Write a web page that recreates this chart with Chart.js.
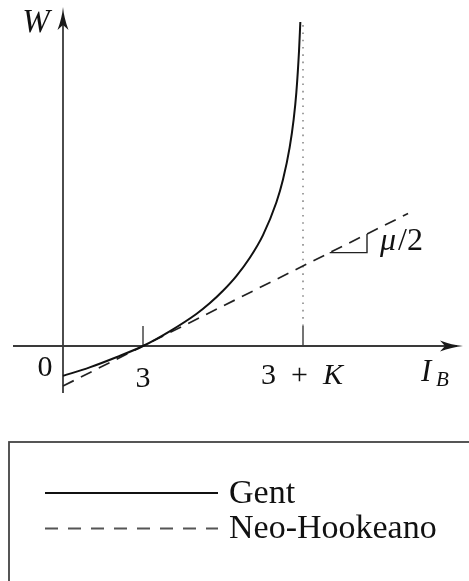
<!DOCTYPE html>
<html>
<head>
<meta charset="utf-8">
<script src="https://cdn.jsdelivr.net/npm/chart.js@4.4.1/dist/chart.umd.min.js"></script>
<style>
	html, body { margin: 0; padding: 0; background: #fff; }
</style>
</head>
<body>
<canvas id="myChart" width="469" height="581"></canvas>
<script>

// Gent strain energy, rising to the asymptote at I_B = 3 + K
const gentI = [0, 1, 2, 3, 4, 5, 5.5, 6, 6.5, 7, 7.5, 8, 8.25, 8.5, 8.65, 8.75, 8.85, 8.9]
const gentW = [-1.12, -0.8, -0.42, 0, 0.55, 1.2, 1.6, 2.07, 2.62, 3.3, 4.16, 5.38, 6.24, 7.45, 8.5, 9.5, 11.05, 12.15]

// Neo-Hookean straight line, slope mu/2
const neoI = [0, 12.94]
const neoW = [-1.5, 4.97]

// asymptote I_B = 3 + K
const asymI = [9, 9]
const asymW = [0.75, 12.15]

// little slope triangle under the dashed line
const slopeI = [10, 11.4, 11.4]
const slopeW = [3.5, 3.5, 4.2]

// axis tick marks and their labels
const tickValues = [3, 9]
const tickTexts = [['3'], ['3\u2002+\u2002', 'K']]

const FONT = '"Liberation Serif", "DejaVu Serif", serif'

const pts = (xs, ys) => xs.map((x, i) => ({ x: x, y: ys[i] }))

function arrowHead(ctx, x, y, angle) {
	ctx.save()
	ctx.translate(x, y)
	ctx.rotate(angle)
	ctx.beginPath()
	ctx.moveTo(0, 0)
	ctx.quadraticCurveTo(-11, 1, -23, 5.5)
	ctx.lineTo(-18, 0)
	ctx.lineTo(-23, -5.5)
	ctx.quadraticCurveTo(-11, -1, 0, 0)
	ctx.closePath()
	ctx.fill()
	ctx.restore()
}

// draws runs of text, every second run in italics, centred on x
function mixedText(ctx, runs, x, y, size) {
	let widths = runs.map((r, i) => {
		ctx.font = (i % 2 ? 'italic ' : '') + size + 'px ' + FONT
		return ctx.measureText(r).width
	})
	let total = widths.reduce((a, b) => a + b, 0)
	let cx = x - total / 2
	ctx.textAlign = 'left'
	runs.forEach((r, i) => {
		ctx.font = (i % 2 ? 'italic ' : '') + size + 'px ' + FONT
		ctx.fillText(r, cx, y)
		cx += widths[i]
	})
}

const axesPlugin = {
	id: 'axesPlugin',
	beforeDatasetsDraw(chart) {
		const ctx = chart.ctx
		const xs = chart.scales.x, ys = chart.scales.y
		const area = chart.chartArea
		const x0 = xs.getPixelForValue(0), y0 = ys.getPixelForValue(0)

		ctx.save()
		ctx.strokeStyle = '#3a3a3a'
		ctx.fillStyle = '#1a1a1a'
		ctx.lineWidth = 1.8

		ctx.beginPath()
		ctx.moveTo(area.left, y0)
		ctx.lineTo(area.right - 6, y0)
		ctx.moveTo(x0, area.bottom)
		ctx.lineTo(x0, area.top + 6)
		ctx.stroke()
		arrowHead(ctx, area.right, y0, 0)
		arrowHead(ctx, x0, area.top - 1, -Math.PI / 2)

		ctx.lineWidth = 1.4
		ctx.beginPath()
		tickValues.forEach(v => {
			let px = xs.getPixelForValue(v)
			ctx.moveTo(px, y0)
			ctx.lineTo(px, ys.getPixelForValue(0.75))
		})
		ctx.stroke()
		ctx.restore()
	},
	afterDraw(chart) {
		const ctx = chart.ctx
		const xs = chart.scales.x, ys = chart.scales.y
		const area = chart.chartArea
		const x0 = xs.getPixelForValue(0), y0 = ys.getPixelForValue(0)

		ctx.save()
		ctx.fillStyle = '#111'
		ctx.textBaseline = 'middle'

		// axis names
		ctx.textAlign = 'center'
		ctx.font = 'italic 33px ' + FONT
		ctx.fillText('W', x0 - 27, area.top + 15)
		ctx.textAlign = 'left'
		ctx.font = 'italic 31px ' + FONT
		ctx.fillText('I', area.right - 42, y0 + 27)
		ctx.font = 'italic 21px ' + FONT
		ctx.fillText('B', area.right - 27, y0 + 34)

		// origin and ticks
		ctx.textAlign = 'center'
		ctx.font = '30px ' + FONT
		ctx.fillText('0', x0 - 18, y0 + 22)
		mixedText(ctx, tickTexts[0], xs.getPixelForValue(tickValues[0]), y0 + 33, 30)
		mixedText(ctx, tickTexts[1], xs.getPixelForValue(tickValues[1]) - 1, y0 + 30, 30)

		// slope label
		ctx.textAlign = 'left'
		ctx.font = 'italic 32px ' + FONT
		let lx = xs.getPixelForValue(slopeI[1]) + 13
		let ly = ys.getPixelForValue(3.9)
		ctx.fillText('\u03bc', lx, ly)
		let mw = ctx.measureText('\u03bc').width
		ctx.font = '32px ' + FONT
		ctx.fillText('/2', lx + mw + 2, ly)

		// legend frame and entries
		ctx.strokeStyle = '#444'
		ctx.lineWidth = 1.8
		ctx.strokeRect(9, 442, 520, 200)

		const entries = chart.data.datasets.filter(d => d.label)
		entries.forEach((d, i) => {
			let y = 493 + i * 35.5
			ctx.strokeStyle = d.legendColor || d.borderColor
			ctx.lineWidth = 1.8
			ctx.setLineDash(d.legendDash || [])
			ctx.beginPath()
			ctx.moveTo(45, y)
			ctx.lineTo(218, y)
			ctx.stroke()
			ctx.setLineDash([])
			ctx.fillStyle = '#111'
			ctx.font = '34px ' + FONT
			ctx.textAlign = 'left'
			ctx.fillText(d.label, 229, y + 1)
		})
		ctx.restore()
	}
}

let myChart = new Chart(
	document.getElementById('myChart'),
	{
		type: 'scatter',
		data: {
			datasets: [
				{
					label: 'Gent',
					data: pts(gentI, gentW),
					showLine: true,
					borderColor: '#111',
					borderWidth: 2,
					cubicInterpolationMode: 'monotone',
					pointRadius: 0,
					order: 0
				},
				{
					label: 'Neo-Hookeano',
					data: pts(neoI, neoW),
					showLine: true,
					borderColor: '#222',
					borderWidth: 1.7,
					borderDash: [12, 8],
					legendColor: '#555',
					legendDash: [13, 10],
					pointRadius: 0,
					order: 1
				},
				{
					data: pts(slopeI, slopeW),
					showLine: true,
					borderColor: '#222',
					borderWidth: 1.4,
					pointRadius: 0,
					order: 2
				},
				{
					data: pts(asymI, asymW),
					showLine: true,
					borderColor: '#8a8a8a',
					borderWidth: 1.6,
					borderDash: [1.6, 5.7],
					pointRadius: 0,
					order: 3
				}
			]
		},
		options: {
			responsive: false,
			animation: false,
			layout: { padding: { left: 13, right: 6, top: 8, bottom: 188 } },
			plugins: {
				legend: { display: false },
				tooltip: { enabled: false }
			},
			scales: {
				x: { type: 'linear', min: -1.875, max: 15, display: false },
				y: { type: 'linear', min: -1.7625, max: 12.675, display: false }
			}
		},
		plugins: [axesPlugin]
	}
);
</script>
</body>
</html>
